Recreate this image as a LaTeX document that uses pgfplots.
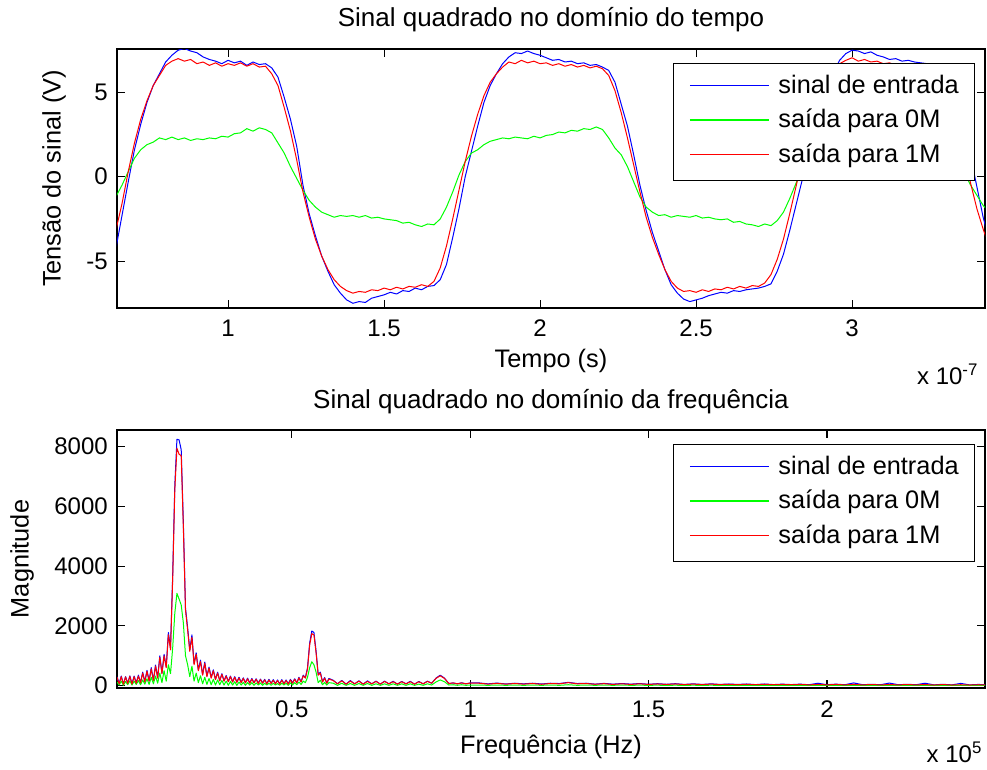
\documentclass[border=0pt]{standalone}
\usepackage{pgfplots}
\usepackage{pgfplotstable}
\pgfplotsset{compat=1.18}
\usepackage{fontspec}
\setmainfont{Liberation Sans}

\pgfplotstableread{
x b g r
0.64 -4.3 -1.2 -3.2
0.66 -2.3 -0.5 -1.6
0.68 -0.3 0.3 0.3
0.70 1.6 1.1 2.0
0.72 3.1 1.6 3.4
0.74 4.4 1.9 4.5
0.76 5.4 2.05 5.4
0.78 6.1 2.3 6.0
0.80 6.8 2.2 6.6
0.82 7.2 2.35 6.85
0.84 7.5 2.2 7.0
0.86 7.6 2.3 6.85
0.88 7.45 2.15 6.95
0.90 7.35 2.25 6.7
0.92 7.1 2.2 6.8
0.94 6.95 2.3 6.6
0.96 6.85 2.25 6.75
0.98 6.7 2.4 6.55
1.00 6.9 2.35 6.7
1.02 6.75 2.55 6.6
1.04 6.85 2.6 6.75
1.06 6.6 2.85 6.55
1.08 6.8 2.7 6.7
1.10 6.65 2.9 6.5
1.12 6.7 2.8 6.55
1.14 6.45 2.6 6.1
1.16 5.9 2.0 5.4
1.18 4.7 1.4 4.1
1.20 3.4 0.6 2.7
1.22 1.8 -0.1 1.0
1.24 -0.5 -0.8 -0.9
1.26 -2.2 -1.4 -2.4
1.28 -3.5 -1.8 -3.7
1.30 -4.7 -2.1 -4.7
1.32 -5.6 -2.25 -5.5
1.34 -6.4 -2.4 -6.1
1.36 -6.9 -2.3 -6.5
1.38 -7.3 -2.35 -6.75
1.40 -7.5 -2.3 -6.9
1.42 -7.4 -2.4 -6.8
1.44 -7.45 -2.3 -6.85
1.46 -7.2 -2.45 -6.7
1.48 -7.1 -2.4 -6.75
1.50 -7.0 -2.5 -6.6
1.52 -6.85 -2.55 -6.7
1.54 -6.95 -2.6 -6.55
1.56 -6.75 -2.75 -6.65
1.58 -6.8 -2.7 -6.5
1.60 -6.6 -2.85 -6.55
1.62 -6.7 -2.95 -6.4
1.64 -6.5 -2.8 -6.5
1.66 -6.45 -2.85 -6.2
1.68 -6.1 -2.5 -5.4
1.70 -5.2 -1.8 -4.1
1.72 -3.6 -0.9 -2.5
1.74 -1.9 0.1 -0.8
1.76 0.0 0.9 0.9
1.78 1.5 1.4 2.4
1.80 3.0 1.6 3.7
1.82 4.4 1.9 4.8
1.84 5.4 2.1 5.6
1.86 6.1 2.2 6.1
1.88 6.7 2.3 6.5
1.90 7.1 2.25 6.8
1.92 7.35 2.35 6.7
1.94 7.3 2.3 6.9
1.96 7.45 2.25 6.75
1.98 7.3 2.4 6.85
2.00 7.2 2.3 6.7
2.02 7.05 2.45 6.75
2.04 6.9 2.5 6.6
2.06 6.95 2.65 6.7
2.08 6.8 2.6 6.55
2.10 6.85 2.75 6.65
2.12 6.7 2.7 6.5
2.14 6.75 2.85 6.6
2.16 6.6 2.8 6.45
2.18 6.65 2.95 6.55
2.20 6.5 2.8 6.4
2.22 6.3 2.3 6.0
2.24 5.6 1.7 5.1
2.26 4.3 1.3 3.8
2.28 3.0 0.6 2.3
2.30 1.3 -0.3 0.7
2.32 -0.5 -1.2 -0.9
2.34 -2.0 -1.8 -2.4
2.36 -3.3 -2.1 -3.6
2.38 -4.4 -2.3 -4.6
2.40 -5.5 -2.25 -5.5
2.42 -6.4 -2.4 -6.2
2.44 -6.9 -2.3 -6.6
2.46 -7.25 -2.35 -6.8
2.48 -7.4 -2.4 -6.75
2.50 -7.3 -2.3 -6.85
2.52 -7.2 -2.45 -6.7
2.54 -7.05 -2.4 -6.8
2.56 -6.95 -2.5 -6.65
2.58 -6.85 -2.55 -6.7
2.60 -6.9 -2.5 -6.55
2.62 -6.75 -2.7 -6.65
2.64 -6.8 -2.65 -6.5
2.66 -6.7 -2.8 -6.6
2.68 -6.65 -2.85 -6.45
2.70 -6.6 -2.95 -6.5
2.72 -6.5 -2.8 -6.3
2.74 -6.35 -2.9 -5.8
2.76 -5.6 -2.6 -4.9
2.78 -4.6 -2.1 -3.7
2.80 -3.2 -1.3 -2.2
2.82 -1.7 -0.4 -0.6
2.84 -0.2 0.5 1.0
2.86 1.4 1.2 2.5
2.88 2.9 1.6 3.8
2.90 4.3 1.9 4.9
2.92 5.4 2.1 5.7
2.94 6.2 2.2 6.3
2.96 6.9 2.3 6.7
2.98 7.3 2.2 6.9
3.00 7.5 2.35 7.05
3.02 7.45 2.3 6.85
3.04 7.3 2.4 6.95
3.06 7.4 2.35 6.8
3.08 7.2 2.5 6.85
3.10 7.1 2.6 6.7
3.12 6.95 2.7 6.75
3.14 7.0 2.65 6.6
3.16 6.85 2.8 6.7
3.18 6.9 2.75 6.55
3.20 6.8 2.9 6.65
3.22 6.75 2.85 6.5
3.24 6.7 2.9 6.55
3.26 6.6 2.85 6.45
3.28 6.5 2.7 6.2
3.30 6.3 2.2 5.5
3.32 5.6 1.6 4.2
3.34 4.3 0.9 2.8
3.36 2.9 0.2 1.2
3.38 1.2 -0.5 -0.4
3.40 -0.6 -1.1 -1.9
3.42 -2.4 -1.7 -3.1
3.44 -3.8 -2.1 -4.2
}\tempo

\pgfplotstableread{
x b g r
0.010 300 120 280
0.016 70 20 60
0.022 320 150 300
0.028 50 10 40
0.034 300 140 290
0.040 80 30 70
0.046 330 160 310
0.052 60 20 50
0.058 320 150 300
0.064 90 40 80
0.070 350 170 320
0.076 100 30 90
0.082 450 190 420
0.088 130 50 120
0.094 510 230 480
0.100 160 40 150
0.106 600 280 560
0.112 180 60 170
0.118 690 320 650
0.124 270 80 250
0.130 1000 420 950
0.136 420 100 400
0.142 1050 500 1000
0.148 630 150 600
0.154 1780 700 1700
0.160 1260 400 1200
0.166 3650 1250 3540
0.172 6700 2420 6550
0.178 8250 3090 7950
0.184 8230 2900 7750
0.190 7900 2700 7700
0.196 5450 2100 5300
0.202 2600 1000 2530
0.208 1940 700 1860
0.214 1200 300 1150
0.220 1700 650 1620
0.226 740 150 700
0.232 1100 420 1050
0.238 530 100 500
0.244 850 330 800
0.250 370 60 350
0.256 790 280 750
0.262 320 40 300
0.268 620 240 590
0.274 270 30 250
0.280 530 210 500
0.286 210 20 200
0.292 450 190 420
0.298 170 30 160
0.304 400 170 380
0.310 160 20 150
0.316 340 150 320
0.322 140 10 130
0.328 320 140 300
0.334 130 20 120
0.340 300 130 280
0.346 120 10 110
0.352 280 120 260
0.358 110 20 100
0.364 260 110 240
0.370 100 10 90
0.376 250 100 230
0.382 90 20 80
0.388 240 100 220
0.394 100 10 90
0.400 230 90 210
0.406 80 20 70
0.412 220 90 200
0.418 90 10 80
0.424 210 80 190
0.430 70 20 60
0.436 210 80 190
0.442 80 10 70
0.448 200 80 180
0.454 70 20 60
0.460 190 70 170
0.466 60 10 50
0.472 200 80 180
0.478 70 20 60
0.484 190 80 170
0.490 60 10 50
0.496 210 90 190
0.502 90 20 80
0.508 230 100 210
0.514 100 30 90
0.520 280 120 260
0.526 130 40 120
0.532 350 150 330
0.538 270 100 250
0.544 600 280 560
0.550 1420 600 1360
0.556 1830 800 1740
0.562 1780 700 1700
0.568 1160 450 1100
0.574 370 100 350
0.580 450 180 420
0.586 130 30 120
0.592 270 110 250
0.598 90 20 80
0.604 240 100 220
0.616 180 80 170
0.628 60 10 60
0.640 175 80 160
0.652 50 10 50
0.664 170 70 150
0.676 60 10 60
0.688 160 70 150
0.700 50 10 50
0.712 160 70 140
0.724 60 10 60
0.736 150 60 140
0.748 50 10 50
0.760 150 60 140
0.772 60 10 60
0.784 145 60 130
0.796 50 10 50
0.808 140 60 130
0.820 60 10 60
0.832 145 60 130
0.844 50 10 50
0.856 140 50 130
0.868 60 10 60
0.880 150 60 140
0.892 80 20 80
0.904 250 120 240
0.916 350 190 330
0.928 250 130 240
0.940 70 20 70
0.952 90 30 90
0.964 60 10 60
0.976 95 30 90
0.988 60 10 60
1.000 90 20 85
1.025 90 20 80
1.050 60 10 50
1.075 85 20 75
1.100 55 10 50
1.125 80 20 70
1.150 60 10 50
1.175 80 20 70
1.200 55 10 45
1.225 80 20 70
1.250 70 10 60
1.275 110 30 100
1.300 70 10 60
1.325 80 20 70
1.350 50 10 45
1.375 75 20 65
1.400 50 10 40
1.425 70 20 60
1.450 50 10 40
1.475 70 15 60
1.500 45 10 40
1.525 65 15 55
1.550 45 5 40
1.575 65 15 55
1.600 40 5 35
1.625 60 15 50
1.650 40 5 35
1.675 60 15 50
1.700 40 5 35
1.725 55 10 45
1.750 40 5 30
1.775 55 10 45
1.800 35 5 30
1.825 55 10 45
1.850 35 5 30
1.875 50 10 40
1.900 35 5 30
1.925 50 10 40
1.950 30 5 25
1.975 80 10 40
2.000 30 5 25
2.025 50 10 40
2.050 30 5 25
2.075 90 10 40
2.100 30 5 25
2.125 45 10 35
2.150 30 5 25
2.175 85 10 35
2.200 30 5 25
2.225 45 10 35
2.250 30 5 25
2.275 80 10 35
2.300 25 5 20
2.325 45 10 35
2.350 25 5 20
2.375 75 10 30
2.400 25 5 20
2.425 40 10 30
2.450 25 5 20
}\freq

\definecolor{mblue}{RGB}{0,0,255}
\definecolor{mgreen}{RGB}{0,255,0}
\definecolor{mred}{RGB}{255,0,0}

\pgfplotsset{
  mat/.style={
    scale only axis,
    width=651pt,
    axis line style={black, line width=0.8pt},
    tick align=inside,
    tick pos=both,
    major tick length=6pt,
    every tick/.style={black, line width=0.8pt},
    /pgf/number format/assume math mode=true,
    ticklabel style={font=\fontsize{18}{21}\selectfont},
    xticklabel style={anchor=base},
    yticklabel style={anchor=east, inner sep=0pt, xshift=-6.75pt},
    label style={font=\fontsize{19}{22}\selectfont},
    scaled x ticks=false,
    scaled y ticks=false,
    every axis plot/.append style={line width=0.75pt, line join=round},
    legend image code/.code={%
      \draw[##1, line width=1pt] (0pt,6pt) -- (59pt,6pt);
      \path (0pt,0pt) (66pt,0pt);},
    legend cell align=left,
    legend style={
      at={(1,1)}, anchor=north east, xshift=-7.5pt, yshift=-10.5pt,
      draw=black, fill=white,
      font=\fontsize{19}{22}\selectfont,
      inner xsep=12pt, inner ysep=9.5pt, row sep=9pt,
      nodes={inner sep=0pt, text height=13pt, text depth=4pt, anchor=base west},
    },
  }
}

\begin{document}
\begin{tikzpicture}
\begin{axis}[mat,
  name=top, at={(0,0)}, anchor=north west,
  height=194.25pt,
  xmin=0.644, xmax=3.426, ymin=-7.78, ymax=7.57,
  xtick={1,1.5,2,2.5,3},
  xticklabels={1,1.5,2,2.5,3},
  ytick={-5,0,5},
  xticklabel style={yshift=-21.4pt},
  xlabel={Tempo (s)},
  xlabel style={at={(axis description cs:0.5,-0.204)}, anchor=center},
  ylabel={Tensão do sinal (V)},
  ylabel style={at={(axis description cs:-0.0726,0.5)}, anchor=center},
  after end axis/.code={
    \node[anchor=base east, inner sep=0pt, font=\fontsize{18}{21}\selectfont]
      at ([xshift=-5pt, yshift=-57pt]rel axis cs:1,0) {x 10\textsuperscript{-7}};
    \node[anchor=center, inner sep=0pt, font=\fontsize{19.5}{22}\selectfont]
      at ([yshift=21.75pt]rel axis cs:0.5,1) {Sinal quadrado no domínio do tempo};
  },
]
\addplot[mblue] table[x=x, y=b] {\tempo};
\addplot[mgreen] table[x=x, y=g] {\tempo};
\addplot[mred] table[x=x, y=r] {\tempo};
\legend{sinal de entrada, saída para 0M, saída para 1M}
\end{axis}

\begin{axis}[mat,
  name=bot, at={(0,-285.75pt)}, anchor=north west,
  height=193.5pt,
  xmin=0.010, xmax=2.443, ymin=-80, ymax=8560,
  xtick={0.5,1,1.5,2},
  xticklabels={0.5,1,1.5,2},
  ytick={0,2000,4000,6000,8000},
  yticklabels={0,2000,4000,6000,8000},
  xticklabel style={yshift=-22.2pt},
  xlabel={Frequência (Hz)},
  xlabel style={at={(axis description cs:0.5,-0.229)}, anchor=center},
  ylabel={Magnitude},
  ylabel style={at={(axis description cs:-0.1094,0.5)}, anchor=center},
  after end axis/.code={
    \node[anchor=base east, inner sep=0pt, font=\fontsize{18}{21}\selectfont]
      at ([xshift=-2pt, yshift=-55.5pt]rel axis cs:1,0) {x 10\textsuperscript{5}};
    \node[anchor=center, inner sep=0pt, font=\fontsize{19.5}{22}\selectfont]
      at ([yshift=21pt]rel axis cs:0.5,1) {Sinal quadrado no domínio da frequência};
  },
]
\addplot[mblue] table[x=x, y=b] {\freq};
\addplot[mgreen] table[x=x, y=g] {\freq};
\addplot[mred] table[x=x, y=r] {\freq};
\legend{sinal de entrada, saída para 0M, saída para 1M}
\end{axis}

\pgfresetboundingbox
\path[use as bounding box] (-87.75pt,36.75pt) rectangle (652.5pt,-540pt);
\end{tikzpicture}
\end{document}
